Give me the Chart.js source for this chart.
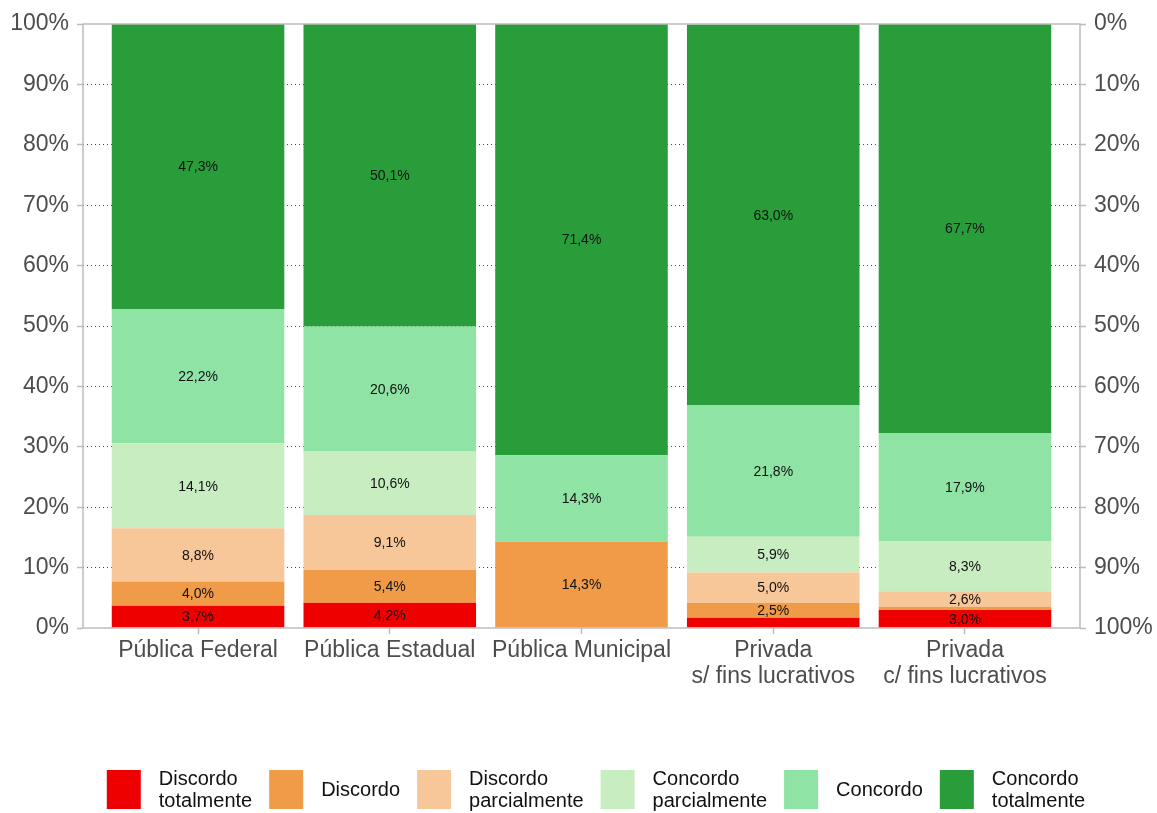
<!DOCTYPE html>
<html>
<head>
<meta charset="utf-8">
<script src="https://cdn.jsdelivr.net/npm/chart.js@4/dist/chart.umd.min.js"></script>
<style>
  html, body { margin: 0; padding: 0; background: #fff; }
  #wrap { width: 1157px; height: 813px; }
</style>
</head>
<body>
<div id="wrap"><canvas id="grafico"></canvas></div>
<script>
// categorias de instituição
var categorias = ["Pública Federal", "Pública Estadual", "Pública Municipal", "Privada\ns/ fins lucrativos", "Privada\nc/ fins lucrativos"];

// respostas (%) por categoria
var discordoTotalmente = [3.7, 4.2, 0, 1.7, 3.0];
var discordo = [4.0, 5.4, 14.3, 2.5, 0.5];
var discordoParcialmente = [8.8, 9.1, 0, 5.0, 2.6];
var concordoParcialmente = [14.1, 10.6, 0, 5.9, 8.3];
var concordo = [22.2, 20.6, 14.3, 21.8, 17.9];
var concordoTotalmente = [47.3, 50.1, 71.4, 63.0, 67.7];

var rotulos = ["Discordo\ntotalmente", "Discordo", "Discordo\nparcialmente", "Concordo\nparcialmente", "Concordo", "Concordo\ntotalmente"];
var cores = ["#EE0000", "#F09B47", "#F7C799", "#C7EDC1", "#8EE3A5", "#289D39"];

var ticksY = [0, 10, 20, 30, 40, 50, 60, 70, 80, 90, 100];

var fonte = "'Liberation Sans', Arial, sans-serif";
var cinzaEixo = "#bdbdbd";
var cinzaTexto = "#4d4d4d";

var series = [discordoTotalmente, discordo, discordoParcialmente, concordoParcialmente, concordo, concordoTotalmente];

function pontos(valores) {
    var arr = [];
    for (var i = 0; i < valores.length; i++) {
        arr.push({ x: i, y: valores[i] });
    }
    return arr;
}

var datasets = [];
for (var s = 0; s < series.length; s++) {
    datasets.push({
        label: rotulos[s],
        data: pontos(series[s]),
        backgroundColor: cores[s],
        borderWidth: 0,
        barPercentage: 0.9,
        categoryPercentage: 1.0
    });
}

function formata(v) {
    return v.toFixed(1).replace('.', ',') + '%';
}

// moldura do painel
var moldura = {
    id: 'moldura',
    afterDatasetsDraw: function (chart) {
        var a = chart.chartArea;
        var ctx = chart.ctx;
        ctx.save();
        ctx.strokeStyle = cinzaEixo;
        ctx.lineWidth = 1.5;
        ctx.strokeRect(a.left, a.top, a.right - a.left, a.bottom - a.top);
        ctx.restore();
    }
};

// valores dentro das barras
var valores = {
    id: 'valores',
    afterDatasetsDraw: function (chart) {
        var ctx = chart.ctx;
        ctx.save();
        ctx.font = "14px " + fonte;
        ctx.fillStyle = "#111";
        ctx.textAlign = "center";
        ctx.textBaseline = "middle";
        chart.data.datasets.forEach(function (ds, di) {
            var meta = chart.getDatasetMeta(di);
            meta.data.forEach(function (bar, i) {
                var v = ds.data[i].y;
                if (v < 2) return;
                ctx.fillText(formata(v), bar.x, (bar.y + bar.base) / 2 + 1);
            });
        });
        ctx.restore();
    }
};

// legenda embaixo, textos em duas linhas
var legenda = {
    id: 'legenda',
    afterDraw: function (chart) {
        var ctx = chart.ctx;
        var caixaL = 34, caixaA = 39, espaco = 18, entre = 17;
        var centroX = 596, centroY = 789.5;
        ctx.save();
        ctx.font = "20px " + fonte;
        var itens = chart.data.datasets.map(function (ds) {
            var linhas = ds.label.split('\n');
            var w = 0;
            linhas.forEach(function (l) { w = Math.max(w, ctx.measureText(l).width); });
            return { linhas: linhas, w: w, cor: ds.backgroundColor };
        });
        var total = 0;
        itens.forEach(function (it, i) {
            total += caixaL + espaco + it.w + (i < itens.length - 1 ? entre : 0);
        });
        var x = centroX - total / 2;
        ctx.textBaseline = "middle";
        ctx.textAlign = "left";
        itens.forEach(function (it) {
            ctx.fillStyle = it.cor;
            ctx.fillRect(x, centroY - caixaA / 2, caixaL, caixaA);
            ctx.fillStyle = "#111";
            var tx = x + caixaL + espaco;
            if (it.linhas.length === 1) {
                ctx.fillText(it.linhas[0], tx, centroY + 1);
            } else {
                ctx.fillText(it.linhas[0], tx, centroY - 10);
                ctx.fillText(it.linhas[1], tx, centroY + 12);
            }
            x = tx + it.w + entre;
        });
        ctx.restore();
    }
};

new Chart(document.getElementById("grafico"), {
    type: 'bar',
    data: { datasets: datasets },
    plugins: [moldura, valores, legenda],
    options: {
        responsive: true,
        maintainAspectRatio: false,
        animation: false,
        layout: { padding: { top: 24, left: 0, right: 0, bottom: 0 } },
        plugins: {
            legend: { display: false },
            tooltip: { enabled: false }
        },
        scales: {
            x: {
                type: 'linear',
                stacked: true,
                offset: false,
                min: -0.6,
                max: 4.6,
                afterBuildTicks: function (scale) {
                    scale.ticks = categorias.map(function (c, i) { return { value: i }; });
                },
                afterFit: function (scale) { scale.height = 185; },
                border: { display: false },
                grid: { offset: false, drawOnChartArea: false, tickLength: 6, tickColor: cinzaEixo, tickWidth: 1.5 },
                ticks: {
                    autoSkip: false,
                    maxRotation: 0,
                    padding: 4,
                    color: cinzaTexto,
                    font: { family: fonte, size: 23, lineHeight: 1.13 },
                    callback: function (v) { return categorias[v].split('\n'); }
                }
            },
            y: {
                stacked: true,
                min: 0,
                max: 100,
                position: 'left',
                afterBuildTicks: function (scale) {
                    scale.ticks = ticksY.map(function (t) { return { value: t }; });
                },
                afterFit: function (scale) { scale.width = 83; },
                border: { display: false, dash: [1, 3] },
                grid: {
                    color: function (c) {
                        return (c.tick.value === 0 || c.tick.value === 100) ? 'rgba(0,0,0,0)' : 'rgba(40,40,40,0.85)';
                    },
                    lineWidth: 1,
                    tickLength: 6,
                    tickColor: cinzaEixo,
                    tickWidth: 1.5
                },
                ticks: {
                    padding: 8,
                    color: cinzaTexto,
                    font: { family: fonte, size: 23 },
                    callback: function (v) { return v + '%'; }
                }
            },
            y2: {
                min: 0,
                max: 100,
                reverse: true,
                position: 'right',
                afterBuildTicks: function (scale) {
                    scale.ticks = ticksY.map(function (t) { return { value: t }; });
                },
                afterFit: function (scale) { scale.width = 77; },
                border: { display: false },
                grid: { drawOnChartArea: false, tickLength: 6, tickColor: cinzaEixo, tickWidth: 1.5 },
                ticks: {
                    padding: 8,
                    color: cinzaTexto,
                    font: { family: fonte, size: 23 },
                    callback: function (v) { return v + '%'; }
                }
            }
        }
    }
});
</script>
</body>
</html>
